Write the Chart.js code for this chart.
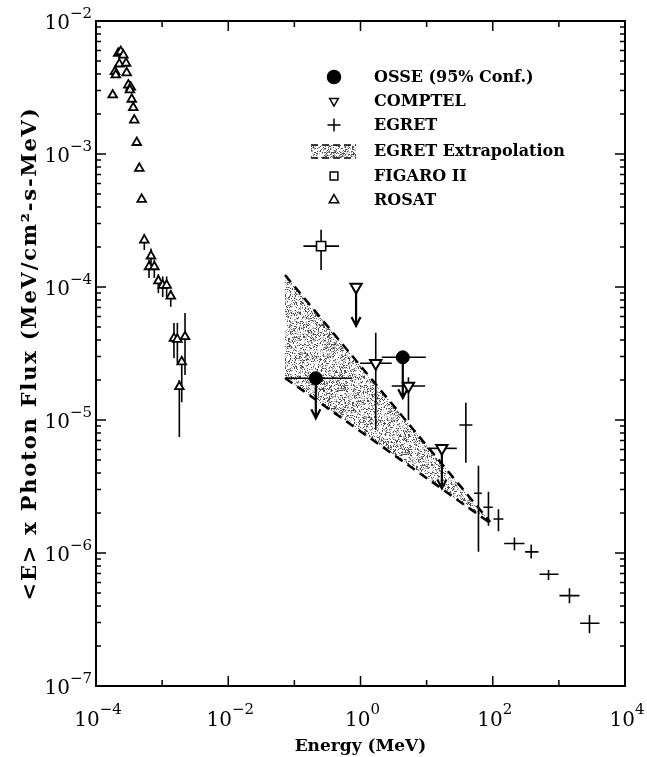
<!DOCTYPE html>
<html>
<head>
<title>Photon Flux Spectrum</title>
<script src="https://cdn.jsdelivr.net/npm/chart.js"></script>
<style>
  body { margin: 0; background: #fff; }
  canvas { display: block; }
</style>
</head>
<body>
<canvas id="spec" width="647" height="757"></canvas>
<script>
// ROSAT (soft x-ray)
const rosatE = [2.17e-4, 2.37e-4, 2.59e-4, 2.25e-4, 2.85e-4, 1.94e-4, 1.99e-4, 2.91e-4, 3.08e-4, 3.35e-4,
  3.26e-4, 1.79e-4, 3.47e-4, 3.66e-4, 3.79e-4, 4.13e-4, 4.52e-4, 4.91e-4, 5.38e-4, 6.79e-4,
  6.34e-4, 7.62e-4, 8.77e-4, 1.02e-3, 1.17e-3, 1.35e-3, 1.51e-3, 1.70e-3, 2.22e-3, 1.98e-3, 1.82e-3];
const rosatF = [5.71e-3, 5.88e-3, 5.54e-3, 4.75e-3, 4.81e-3, 4.16e-3, 3.93e-3, 4.08e-3, 3.30e-3, 3.18e-3,
  3.03e-3, 2.78e-3, 2.58e-3, 2.23e-3, 1.80e-3, 1.22e-3, 7.8e-4, 4.56e-4, 2.25e-4, 1.71e-4,
  1.42e-4, 1.42e-4, 1.11e-4, 1.03e-4, 1.03e-4, 8.55e-5, 4.11e-5, 4.04e-5, 4.23e-5, 2.74e-5, 1.78e-5];
const rosatFlo = [null, null, null, null, null, null, null, null, null, null,
  null, null, null, null, null, null, null, null, 1.9e-4, 1.45e-4,
  1.17e-4, 1.17e-4, 9.0e-5, 8.4e-5, 8.4e-5, 7.1e-5, 2.92e-5, 2.67e-5, 2.18e-5, 1.36e-5, 7.45e-6];
const rosatFhi = [null, null, null, null, null, null, null, null, null, null,
  null, null, null, null, null, null, null, null, 2.5e-4, 1.95e-4,
  1.6e-4, 1.6e-4, 1.25e-4, 1.2e-4, 1.2e-4, 9.5e-5, 5.36e-5, 5.36e-5, 6.38e-5, 2.73e-5, 2.0e-5];

// OSSE upper limits
const osseE = [0.211, 4.36];
const osseF = [2.06e-5, 2.96e-5];
const osseElo = [0.0723, 2.10];
const osseEhi = [0.738, 9.72];
const osseLim = [1.03e-5, 1.46e-5];

// COMPTEL
const comptelE = [0.857, 1.70, 5.31, 17.0];
const comptelF = [1.0e-4, 2.67e-5, 1.80e-5, 6.12e-6];
const comptelElo = [null, 0.986, 2.97, 10.07];
const comptelEhi = [null, 2.97, 9.49, 28.6];
const comptelFlo = [null, 8.4e-6, 1.0e-5, null];
const comptelFhi = [null, 4.53e-5, 2.1e-5, null];
const comptelLim = [5.1e-5, null, null, 3.06e-6];

// EGRET
const egretE = [39.2, 60.8, 86.1, 122, 213, 381, 697, 1446, 2904];
const egretF = [9.16e-6, 2.81e-6, 2.21e-6, 1.80e-6, 1.18e-6, 1.02e-6, 6.92e-7, 4.78e-7, 2.96e-7];
const egretElo = [31.3, 52.3, 72.3, 102.5, 149, 309, 509, 1021, 2099];
const egretEhi = [49.3, 68.4, 100, 145, 302, 491, 986, 2050, 4113];
const egretFlo = [4.78e-6, 1.02e-6, 1.60e-6, 1.46e-6, 1.05e-6, 9.1e-7, 6.27e-7, 4.19e-7, 2.49e-7];
const egretFhi = [1.35e-5, 4.53e-6, 2.89e-6, 2.13e-6, 1.31e-6, 1.16e-6, 7.45e-7, 5.43e-7, 3.42e-7];

// EGRET extrapolation band
const extE = [0.0722, 91.4];
const extHi = [1.23e-4, 1.71e-6];
const extLo = [2.07e-5, 1.68e-6];

// FIGARO II
const figaroE = [0.2535];
const figaroF = [2.03e-4];
const figaroElo = [0.137];
const figaroEhi = [0.474];
const figaroFlo = [1.34e-4];
const figaroFhi = [2.69e-4];

// axis ticks (powers of ten)
const xTickExp = [-4, -2, 0, 2, 4];
const yTickExp = [-2, -3, -4, -5, -6, -7];

const FONT = '"DejaVu Serif", serif';

const pts = (xs, ys) => xs.map((x, i) => ({ x: x, y: ys[i] }));

// grainy stipple texture for the extrapolation band
function grain(i, j) {
  let h = Math.imul(i, 374761393) + Math.imul(j, 668265263);
  h = Math.imul(h ^ (h >>> 13), 1274126177);
  h ^= h >>> 16;
  return (h >>> 0) / 4294967296;
}
function stipple() {
  const n = 64;
  const c = document.createElement('canvas');
  c.width = n; c.height = n;
  const g = c.getContext('2d');
  for (let i = 0; i < n; i++) {
    for (let j = 0; j < n; j++) {
      const f = grain(i, j);
      if (f < 0.2) { g.fillStyle = '#4a4a4a'; g.fillRect(i, j, 1, 1); }
      else if (f < 0.36) { g.fillStyle = '#a8a8a8'; g.fillRect(i, j, 1, 1); }
    }
  }
  return g.createPattern(c, 'repeat');
}
const band = stipple();

function drawBars(chart) {
  const ctx = chart.ctx, xs = chart.scales.x, ys = chart.scales.y;
  ctx.save();
  ctx.strokeStyle = '#000';
  ctx.fillStyle = '#000';
  chart.data.datasets.forEach(ds => {
    const e = ds.errors;
    if (!e) return;
    ds.data.forEach((p, i) => {
      const px = xs.getPixelForValue(p.x), py = ys.getPixelForValue(p.y);
      ctx.lineWidth = 1.6;
      ctx.beginPath();
      if (e.elo && e.elo[i] != null) {
        ctx.moveTo(xs.getPixelForValue(e.elo[i]), py);
        ctx.lineTo(xs.getPixelForValue(e.ehi[i]), py);
      }
      if (e.flo && e.flo[i] != null) {
        ctx.moveTo(px, ys.getPixelForValue(e.fhi[i]));
        ctx.lineTo(px, ys.getPixelForValue(e.flo[i]));
      }
      ctx.stroke();
      if (e.lim && e.lim[i] != null) {
        const ly = ys.getPixelForValue(e.lim[i]);
        ctx.lineWidth = 2.2;
        ctx.beginPath();
        ctx.moveTo(px, py);
        ctx.lineTo(px, ly);
        ctx.moveTo(px - 4.5, ly - 9);
        ctx.lineTo(px, ly);
        ctx.lineTo(px + 4.5, ly - 9);
        ctx.stroke();
      }
    });
  });
  ctx.restore();
}

const decor = {
  id: 'decor',
  afterDatasetDraw(chart, args) {
    if (args.index === 4) drawBars(chart);
  },
  afterDraw(chart) {
    const ctx = chart.ctx, a = chart.chartArea;
    const xs = chart.scales.x, ys = chart.scales.y;
    ctx.save();
    ctx.strokeStyle = '#000';
    ctx.fillStyle = '#000';
    // ticks
    ctx.lineWidth = 1.5;
    ctx.beginPath();
    for (let k = -4; k <= 4; k++) {
      const x = xs.getPixelForValue(Math.pow(10, k));
      const len = (k % 2 === 0) ? 10 : 6;
      ctx.moveTo(x, a.bottom); ctx.lineTo(x, a.bottom - len);
      ctx.moveTo(x, a.top); ctx.lineTo(x, a.top + len);
    }
    for (let k = -7; k <= -2; k++) {
      for (let m = 1; m <= 9; m++) {
        const v = m * Math.pow(10, k);
        if (v > 1e-2 + 1e-12) break;
        const y = ys.getPixelForValue(v);
        const len = m === 1 ? 10 : 5;
        ctx.moveTo(a.left, y); ctx.lineTo(a.left + len, y);
        ctx.moveTo(a.right, y); ctx.lineTo(a.right - len, y);
      }
    }
    ctx.stroke();
    // frame
    ctx.lineWidth = 2;
    ctx.strokeRect(a.left, a.top, a.right - a.left, a.bottom - a.top);

    // tick labels
    const base = '20px ' + FONT, sup = '15px ' + FONT;
    xTickExp.forEach(k => {
      const x = xs.getPixelForValue(Math.pow(10, k));
      const ex = (k < 0 ? '\u2212' : '') + Math.abs(k);
      ctx.font = base; const w1 = ctx.measureText('10').width;
      ctx.font = sup; const w2 = ctx.measureText(ex).width;
      const x0 = x - (w1 + w2) / 2 + 2;
      ctx.textAlign = 'left'; ctx.textBaseline = 'alphabetic';
      ctx.font = base; ctx.fillText('10', x0, a.bottom + 40);
      ctx.font = sup; ctx.fillText(ex, x0 + w1, a.bottom + 28);
    });
    yTickExp.forEach(k => {
      const y = ys.getPixelForValue(Math.pow(10, k));
      const ex = (k < 0 ? '\u2212' : '') + Math.abs(k);
      ctx.font = sup; const w2 = ctx.measureText(ex).width;
      ctx.font = base; const w1 = ctx.measureText('10').width;
      const xr = a.left - 4;
      ctx.textAlign = 'left'; ctx.textBaseline = 'alphabetic';
      ctx.font = base; ctx.fillText('10', xr - w2 - w1, y + 8);
      ctx.font = sup; ctx.fillText(ex, xr - w2, y - 3);
    });

    // axis titles
    ctx.font = 'bold 17px ' + FONT;
    ctx.textAlign = 'center';
    ctx.fillText('Energy (MeV)', (a.left + a.right) / 2, 751);
    ctx.save();
    ctx.translate(36, (a.top + a.bottom) / 2);
    ctx.rotate(-Math.PI / 2);
    ctx.font = 'bold 21px ' + FONT;
    ctx.letterSpacing = '1.8px';
    ctx.fillText('<E> x Photon Flux (MeV/cm\u00b2-s-MeV)', 0, 0);
    ctx.restore();

    // legend
    const rows = [77, 101, 125, 151, 176, 200];
    const mx = 334, tx = 374;
    const H = Chart.helpers;
    const items = [0, 1, 2, 3, 5, 6];
    ctx.textAlign = 'left';
    ctx.textBaseline = 'middle';
    items.forEach((di, r) => {
      const ds = chart.data.datasets[di];
      const y = rows[r];
      ctx.fillStyle = '#000';
      ctx.font = 'bold 16px ' + FONT;
      ctx.fillText(ds.label, tx, y + 1);
      if (di === 3) {
        ctx.save();
        ctx.fillStyle = band;
        ctx.fillRect(311, y - 6, 45, 13);
        ctx.setLineDash([7, 4]);
        ctx.lineWidth = 1.5;
        ctx.beginPath();
        ctx.moveTo(311, y - 6); ctx.lineTo(356, y - 6);
        ctx.moveTo(311, y + 7); ctx.lineTo(356, y + 7);
        ctx.stroke();
        ctx.restore();
        return;
      }
      ctx.fillStyle = ds.pointBackgroundColor;
      ctx.strokeStyle = '#000';
      ctx.lineWidth = 1.5;
      H.drawPoint(ctx, {
        pointStyle: ds.pointStyle,
        rotation: ds.pointRotation || 0,
        radius: ds.legendRadius,
        borderWidth: 1.5
      }, mx, y);
    });
    ctx.restore();
  }
};

new Chart(document.getElementById('spec'), {
  type: 'scatter',
  data: {
    datasets: [
      {
        label: 'OSSE (95% Conf.)', data: pts(osseE, osseF),
        pointStyle: 'circle', pointRadius: 6.5, legendRadius: 6.5,
        pointBackgroundColor: '#000', pointBorderColor: '#000', pointBorderWidth: 1,
        errors: { elo: osseElo, ehi: osseEhi, lim: osseLim }, order: 1
      },
      {
        label: 'COMPTEL', data: pts(comptelE, comptelF),
        pointStyle: 'triangle', pointRotation: 180, pointRadius: 6.5, legendRadius: 5,
        pointBackgroundColor: '#fff', pointBorderColor: '#000', pointBorderWidth: 2,
        errors: { elo: comptelElo, ehi: comptelEhi, flo: comptelFlo, fhi: comptelFhi, lim: comptelLim }, order: 2
      },
      {
        label: 'EGRET', data: pts(egretE, egretF),
        pointStyle: 'cross', pointRadius: 0, legendRadius: 6.5,
        pointBackgroundColor: '#000', pointBorderColor: '#000',
        errors: { elo: egretElo, ehi: egretEhi, flo: egretFlo, fhi: egretFhi }, order: 3
      },
      {
        label: 'EGRET Extrapolation', type: 'line', data: pts(extE, extHi),
        borderColor: '#000', borderWidth: 2.5, borderDash: [9, 6],
        pointRadius: 0, fill: '+1', backgroundColor: band, order: 7
      },
      {
        label: 'extrapolation lower bound', type: 'line', data: pts(extE, extLo),
        borderColor: '#000', borderWidth: 2.5, borderDash: [9, 6],
        pointRadius: 0, fill: false, order: 6
      },
      {
        label: 'FIGARO II', data: pts(figaroE, figaroF),
        pointStyle: 'rect', pointRadius: 6.5, legendRadius: 5.5,
        pointBackgroundColor: '#fff', pointBorderColor: '#000', pointBorderWidth: 1.6,
        errors: { elo: figaroElo, ehi: figaroEhi, flo: figaroFlo, fhi: figaroFhi }, order: 4
      },
      {
        label: 'ROSAT', data: pts(rosatE, rosatF),
        pointStyle: 'triangle', pointRadius: 5, legendRadius: 5.5,
        pointBackgroundColor: '#fff', pointBorderColor: '#000', pointBorderWidth: 1.8,
        errors: { flo: rosatFlo, fhi: rosatFhi }, order: 5
      }
    ]
  },
  options: {
    responsive: false,
    animation: false,
    layout: { padding: { left: 96, top: 21, right: 22, bottom: 71 } },
    plugins: { legend: { display: false }, tooltip: { enabled: false } },
    scales: {
      x: { type: 'logarithmic', min: 1e-4, max: 1e4, display: false },
      y: { type: 'logarithmic', min: 1e-7, max: 1e-2, display: false }
    }
  },
  plugins: [decor]
});
</script>
</body>
</html>
